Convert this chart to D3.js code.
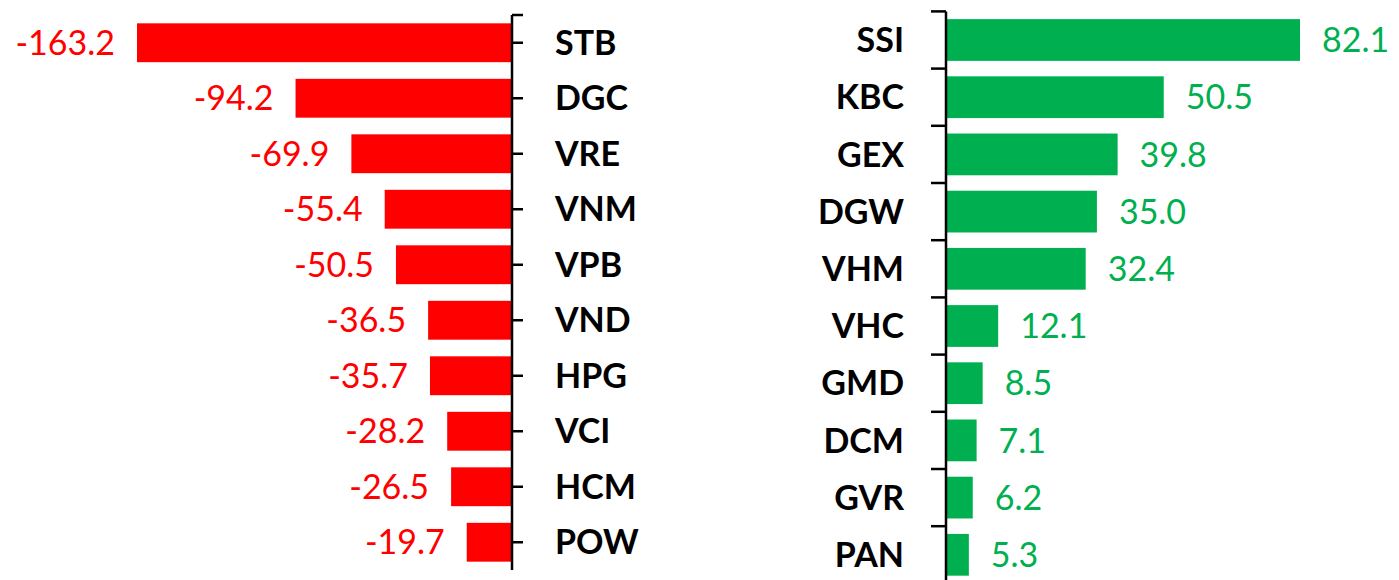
<!DOCTYPE html>
<html>
<head>
<meta charset="utf-8">
<script src="https://cdn.jsdelivr.net/npm/d3@7"></script>
<style>
  body { margin: 0; background: #fff; }
  svg { display: block; }
</style>
</head>
<body>
<div id="chart"></div>
<script>
const sellCodes = ['STB', 'DGC', 'VRE', 'VNM', 'VPB', 'VND', 'HPG', 'VCI', 'HCM', 'POW'];
const sellValues = [-163.2, -94.2, -69.9, -55.4, -50.5, -36.5, -35.7, -28.2, -26.5, -19.7];
const buyCodes = ['SSI', 'KBC', 'GEX', 'DGW', 'VHM', 'VHC', 'GMD', 'DCM', 'GVR', 'PAN'];
const buyValues = [82.1, 50.5, 39.8, 35.0, 32.4, 12.1, 8.5, 7.1, 6.2, 5.3];

const width = 1399, height = 580;
const red = '#ff0000', green = '#00b050';
const font = 'Lato, "Open Sans", sans-serif';

const svg = d3.select('#chart').append('svg')
    .attr('width', width)
    .attr('height', height);

// ---- left side (net sell) ----
let sell = sellCodes.map((c, i) => ({ code: c, value: sellValues[i] }));

let xLeft = d3.scaleLinear()
    .domain([d3.min(sellValues), 0])
    .range([137, 512]);

let yLeft = d3.scaleBand()
    .domain(sellCodes)
    .range([15, 570])
    .paddingInner(0.3)
    .paddingOuter(0.15);

let left = svg.append('g');

left.selectAll('rect')
    .data(sell)
    .enter()
    .append('rect')
    .attr('x', d => xLeft(d.value))
    .attr('y', d => yLeft(d.code))
    .attr('width', d => xLeft(0) - xLeft(d.value))
    .attr('height', yLeft.bandwidth())
    .attr('fill', red);

left.selectAll('.val')
    .data(sell)
    .enter()
    .append('text')
    .attr('class', 'val')
    .attr('x', d => xLeft(d.value) - 22)
    .attr('y', d => yLeft(d.code) + yLeft.bandwidth() / 2)
    .attr('dy', '0.36em')
    .attr('text-anchor', 'end')
    .attr('fill', red)
    .style('font-family', font)
    .style('font-size', '34px')
    .text(d => d.value.toFixed(1));

// axis: line, end tick on top, ticks at category centres
left.append('line')
    .attr('x1', xLeft(0)).attr('x2', xLeft(0))
    .attr('y1', yLeft.range()[0]).attr('y2', yLeft.range()[1])
    .attr('stroke', '#000').attr('stroke-width', 2.5);

let leftTicks = [yLeft.range()[0]].concat(sellCodes.map(c => yLeft(c) + yLeft.bandwidth() / 2));
left.selectAll('.tick')
    .data(leftTicks)
    .enter()
    .append('line')
    .attr('class', 'tick')
    .attr('x1', xLeft(0)).attr('x2', xLeft(0) + 11)
    .attr('y1', d => d).attr('y2', d => d)
    .attr('stroke', '#000').attr('stroke-width', 2.5);

left.selectAll('.cat')
    .data(sell)
    .enter()
    .append('text')
    .attr('class', 'cat')
    .attr('x', 555)
    .attr('y', d => yLeft(d.code) + yLeft.bandwidth() / 2)
    .attr('dy', '0.36em')
    .attr('text-anchor', 'start')
    .style('font-family', font)
    .style('font-weight', 'bold')
    .style('font-size', '34px')
    .text(d => d.code);

// ---- right side (net buy) ----
let buy = buyCodes.map((c, i) => ({ code: c, value: buyValues[i] }));

let xRight = d3.scaleLinear()
    .domain([0, d3.max(buyValues)])
    .range([946, 1300]);

let yRight = d3.scaleBand()
    .domain(buyCodes)
    .range([11.4, 583.4])
    .paddingInner(0.27)
    .paddingOuter(0.135);

let right = svg.append('g');

right.selectAll('rect')
    .data(buy)
    .enter()
    .append('rect')
    .attr('x', xRight(0))
    .attr('y', d => yRight(d.code))
    .attr('width', d => xRight(d.value) - xRight(0))
    .attr('height', yRight.bandwidth())
    .attr('fill', green);

right.selectAll('.val')
    .data(buy)
    .enter()
    .append('text')
    .attr('class', 'val')
    .attr('x', d => xRight(d.value) + 22)
    .attr('y', d => yRight(d.code) + yRight.bandwidth() / 2)
    .attr('dy', '0.36em')
    .attr('text-anchor', 'start')
    .attr('fill', green)
    .style('font-family', font)
    .style('font-size', '34px')
    .text(d => d.value.toFixed(1));

right.append('line')
    .attr('x1', xRight(0)).attr('x2', xRight(0))
    .attr('y1', yRight.range()[0]).attr('y2', yRight.range()[1])
    .attr('stroke', '#000').attr('stroke-width', 2.5);

// ticks between categories
let step = yRight.step();
let rightTicks = d3.range(buyCodes.length + 1).map(i => yRight.range()[0] + i * step);
right.selectAll('.tick')
    .data(rightTicks)
    .enter()
    .append('line')
    .attr('class', 'tick')
    .attr('x1', xRight(0) - 15).attr('x2', xRight(0))
    .attr('y1', d => d).attr('y2', d => d)
    .attr('stroke', '#000').attr('stroke-width', 2.5);

right.selectAll('.cat')
    .data(buy)
    .enter()
    .append('text')
    .attr('class', 'cat')
    .attr('x', 904)
    .attr('y', d => yRight(d.code) + yRight.bandwidth() / 2)
    .attr('dy', '0.36em')
    .attr('text-anchor', 'end')
    .style('font-family', font)
    .style('font-weight', 'bold')
    .style('font-size', '34px')
    .text(d => d.code);
</script>
</body>
</html>
